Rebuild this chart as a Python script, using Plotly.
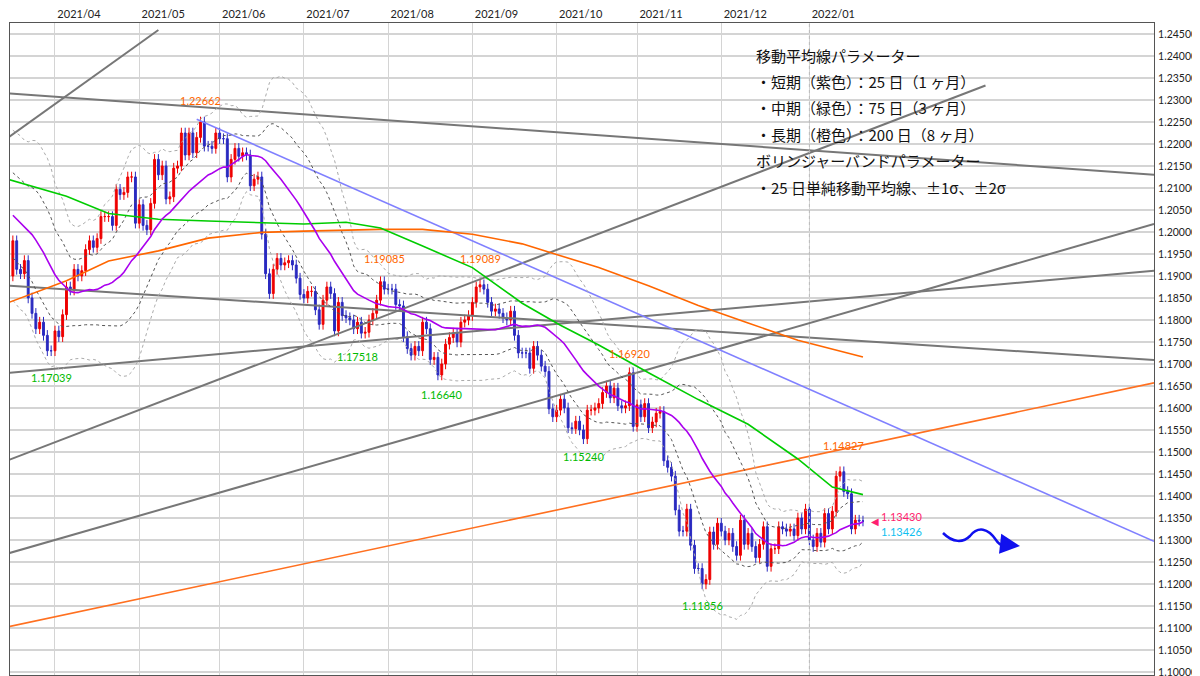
import pandas as pd
import numpy as np
import plotly.graph_objects as go

# ---------------- data ----------------
pre_closes = [1.2130,1.2120, 1.2125,1.2105,1.2040,1.2090,1.2120, 1.2155,1.2150,1.2165,1.2175,1.2075,
              1.2045,1.2090,1.2060,1.1965,1.1915, 1.1850,1.1900,1.1930,1.1985,1.1950, 1.1930,1.1900]
pre_start = "2021-02-11"
closes = [
 1.1980,1.1915,1.1905,
 1.1935,1.1850,1.1815,1.1780,1.1795,
 1.1765,1.1730,1.1730,1.1775,1.1762,
 1.1812,1.1875,1.1868,1.1915,1.1900,
 1.1912,1.1960,1.1980,1.1965,1.1985,
 1.2035,1.2035,1.2035,1.2015,1.2097,
 1.2085,1.2090,1.2125,1.2125,1.2020,
 1.2062,1.2015,1.2005,1.2065,1.2165,
 1.2130,1.2150,1.2075,1.2080,1.2145,
 1.2150,1.2225,1.2175,1.2225,1.2180,
 1.2215,1.2250,1.2195,1.2195,1.2190,
 1.2225,1.2212,1.2212,1.2125,1.2165,
 1.2190,1.2172,1.2180,1.2175,1.2105,
 1.2120,1.2125,1.1995,1.1905,1.1860,
 1.1915,1.1940,1.1925,1.1930,1.1935,
 1.1925,1.1895,1.1858,1.1850,1.1865,
 1.1865,1.1823,1.1790,1.1845,1.1875,
 1.1860,1.1775,1.1840,1.1810,1.1805,
 1.1800,1.1780,1.1795,1.1770,1.1772,
 1.1800,1.1815,1.1845,1.1887,1.1870,
 1.1870,1.1870,1.1835,1.1832,1.1762,
 1.1735,1.1720,1.1740,1.1730,1.1795,
 1.1780,1.1710,1.1715,1.1675,1.1700,
 1.1745,1.1760,1.1770,1.1750,1.1795,
 1.1800,1.1810,1.1840,1.1875,1.1880,
 1.1870,1.1840,1.1820,1.1825,1.1815,
 1.1805,1.1800,1.1820,1.1765,1.1725,
 1.1725,1.1725,1.1690,1.1740,1.1720,
 1.1695,1.1683,1.1598,1.1580,1.1595,
 1.1620,1.1600,1.1555,1.1553,1.1570,
 1.1550,1.1530,1.1595,1.1595,1.1600,
 1.1610,1.1635,1.1650,1.1623,1.1645,
 1.1605,1.1600,1.1605,1.1680,1.1558,
 1.1607,1.1580,1.1610,1.1555,1.1568,
 1.1588,1.1592,1.1480,1.1465,1.1445,
 1.1368,1.1320,1.1320,1.1370,1.1288,
 1.1235,1.1235,1.1200,1.1210,1.1318,
 1.1290,1.1338,1.1320,1.1300,1.1315,
 1.1285,1.1265,1.1345,1.1290,1.1315,
 1.1285,1.1260,1.1290,1.1330,1.1240,
 1.1280,1.1280,1.1330,1.1325,1.1320,
 1.1325,1.1310,1.1350,1.1325,1.1370,
 1.1300,1.1285,1.1315,1.1295,1.1360,
 1.1325,1.1365,1.1445,1.1455,1.1410,
 1.1405,1.1325,1.1345,1.1343,1.1343,
]
WICK = 0.0012

ma75_dates = ["2021-03-16","2021-04-06","2021-04-21","2021-05-10","2021-05-27","2021-06-16","2021-07-01",
              "2021-07-16","2021-07-29","2021-08-13","2021-09-01","2021-09-20","2021-10-04","2021-10-18",
              "2021-11-04","2021-11-23","2021-12-10","2021-12-29","2022-01-11","2022-01-21"]
ma75_vals = [1.2119,1.2081,1.2042,1.2029,1.2025,1.2022,1.2018,1.2022,1.2009,1.1968,1.1919,1.1838,1.1788,
             1.1743,1.1680,1.1619,1.1563,1.1484,1.1420,1.1403]
ma200_dates = ["2021-03-16","2021-04-06","2021-04-21","2021-05-10","2021-05-27","2021-06-16","2021-07-01",
               "2021-07-16","2021-07-29","2021-08-13","2021-09-01","2021-09-20","2021-10-04","2021-10-18",
               "2021-11-04","2021-11-23","2021-12-10","2021-12-29","2022-01-21"]
ma200_vals = [1.1840,1.1889,1.1934,1.1957,1.1986,1.1999,1.2002,1.2004,1.2006,1.2006,1.1995,1.1973,1.1946,
              1.1919,1.1878,1.1833,1.1793,1.1754,1.1716]

X_END = "2022-05-09"
gray_lines = [
    (("2021-03-16", 1.2216), ("2021-05-10", 1.2459)),
    (("2021-03-16", 1.2315), (X_END, 1.2130)),
    (("2021-03-16", 1.1482), ("2022-03-08", 1.2333)),
    (("2021-03-16", 1.1270), (X_END, 1.2018)),
    (("2021-03-16", 1.1680), (X_END, 1.1912)),
    (("2021-03-16", 1.1878), (X_END, 1.1709)),
]
blue_line = (("2021-05-24", 1.2256), (X_END, 1.1297))
orange_line = (("2021-03-16", 1.1103), (X_END, 1.1657))

peak_labels = [("2021-05-25", 1.2280, "1.22662"), ("2021-07-30", 1.1921, "1.19085"),
               ("2021-09-03", 1.1921, "1.19089"), ("2021-10-28", 1.1705, "1.16920"),
               ("2022-01-14", 1.1495, "1.14827")]
trough_labels = [("2021-03-31", 1.1688, "1.17039"), ("2021-07-21", 1.1736, "1.17518"),
                 ("2021-08-20", 1.1650, "1.16640"), ("2021-10-12", 1.1509, "1.15240"),
                 ("2021-11-24", 1.1170, "1.11856")]

month_ticks = ["2021-04-01","2021-05-03","2021-06-01","2021-07-01","2021-08-02","2021-09-01",
               "2021-10-01","2021-11-01","2021-12-01","2022-01-03"]
month_labels = ["2021/04","2021/05","2021/06","2021/07","2021/08","2021/09","2021/10","2021/11",
                "2021/12","2022/01"]
y_ticks = [round(1.100 + 0.005 * i, 3) for i in range(30)]

info_lines = ["移動平均線パラメーター", "・短期（紫色）：25 日（1 ヶ月）", "・中期（緑色）：75 日（3 ヶ月）",
              "・長期（橙色）：200 日（8 ヶ月）", "ボリンジャーバンドパラメーター", "・25 日単純移動平均線、±1σ、±2σ"]

# ---------------- build ----------------
all_closes = pre_closes + closes
all_dates = pd.bdate_range(pre_start, periods=len(all_closes))
s = pd.Series(all_closes, index=all_dates)
ma25 = s.rolling(25).mean()
sd = s.rolling(25).std(ddof=0)
n_pre = len(pre_closes)
dates = all_dates[n_pre:]
c = np.array(closes)
o = np.array(all_closes[n_pre - 1:-1])
h = np.maximum(o, c) + WICK
l = np.minimum(o, c) - WICK

fig = go.Figure()
for (a, b) in gray_lines:
    fig.add_trace(go.Scatter(x=[a[0], b[0]], y=[a[1], b[1]], mode="lines",
                             line=dict(color="#777777", width=2), hoverinfo="skip"))
fig.add_trace(go.Scatter(x=[blue_line[0][0], blue_line[1][0]], y=[blue_line[0][1], blue_line[1][1]],
                         mode="lines", line=dict(color="#8080ff", width=1.6)))
fig.add_trace(go.Scatter(x=[orange_line[0][0], orange_line[1][0]], y=[orange_line[0][1], orange_line[1][1]],
                         mode="lines", line=dict(color="#ff7020", width=1.6)))

for k, col in [(2, "#aaaaaa"), (1, "#555555")]:
    for sign in (1, -1):
        fig.add_trace(go.Scatter(x=dates, y=(ma25 + sign * k * sd)[n_pre:], mode="lines",
                                 line=dict(color=col, width=1, dash="dot")))
fig.add_trace(go.Scatter(x=ma200_dates, y=ma200_vals, mode="lines", line=dict(color="#ff6600", width=1.6)))
fig.add_trace(go.Scatter(x=ma75_dates, y=ma75_vals, mode="lines", line=dict(color="#00cc00", width=1.6)))
fig.add_trace(go.Scatter(x=dates, y=ma25[n_pre:], mode="lines", line=dict(color="#aa00ee", width=1.6)))
fig.add_trace(go.Candlestick(x=dates, open=o, high=h, low=l, close=c,
                             increasing=dict(line=dict(color="#ee0000", width=1), fillcolor="#ee0000"),
                             decreasing=dict(line=dict(color="#2a2ac0", width=1), fillcolor="#2a2ac0"),
                             whiskerwidth=0))

for d, v, t in peak_labels:
    fig.add_annotation(x=d, y=v, text=t, showarrow=False, yanchor="bottom",
                       font=dict(color="#ff6600", size=11, family="Lato"))
for d, v, t in trough_labels:
    fig.add_annotation(x=d, y=v, text=t, showarrow=False, yanchor="top",
                       font=dict(color="#00bb00", size=11, family="Lato"))

L, R, T, B = 2, 1146, 15, 667
def px(xp): return (xp - L) / (R - L)
def py(yp): return (B - yp) / (B - T)

for i, t in enumerate(info_lines):
    fig.add_annotation(xref="paper", yref="paper", x=px(746), y=py(47 + i * 26.4), text=t, showarrow=False,
                       xanchor="left", yanchor="middle", font=dict(size=15, color="#111111", family="Noto Sans CJK JP"))

fig.add_annotation(x="2022-01-21", y=1.1343, text="◀", showarrow=False, xanchor="left", xshift=6,
                   font=dict(color="#ff1f70", size=10))
fig.add_annotation(x="2022-01-21", y=1.1343, text="1.13430", showarrow=False, xanchor="left", xshift=16,
                   yanchor="bottom", yshift=-4, font=dict(color="#ff1f70", size=11, family="Lato"))
fig.add_annotation(x="2022-01-21", y=1.1343, text="1.13426", showarrow=False, xanchor="left", xshift=16,
                   yanchor="top", yshift=-2, font=dict(color="#10c0f0", size=11, family="Lato"))

wave = [(935, 525), (945, 535), (955, 535), (962, 528), (970, 518), (980, 520), (988, 532),
        (993, 540), (1000, 538), (1004, 535)]
path = "M {} {} C {} {}, {} {}, {} {} C {} {}, {} {}, {} {} C {} {}, {} {}, {} {}".format(
    *[v for p in wave for v in (px(p[0]), py(p[1]))])
fig.add_shape(type="path", xref="paper", yref="paper", path=path, line=dict(color="#1010ee", width=2.5))
fig.add_annotation(xref="paper", yref="paper", x=px(1012), y=py(538), ax=-18, ay=-2, axref="pixel",
                   showarrow=True, arrowhead=2, arrowsize=1.6, arrowwidth=2.5, arrowcolor="#1010ee", text="")

fig.add_vline(x="2022-01-03", line=dict(color="#bbbbbb", width=1, dash="dot"))

fig.update_layout(
    width=1200, height=676, margin=dict(l=L, r=1200 - R, t=T, b=676 - B, autoexpand=False),
    paper_bgcolor="white", plot_bgcolor="white", showlegend=False,
    xaxis=dict(type="date", side="top", range=["2021-03-16 06:00", X_END], automargin=False,
               rangebreaks=[dict(bounds=["sat", "mon"])], rangeslider=dict(visible=False),
               tickvals=month_ticks, ticktext=month_labels, ticks="", ticklabelshift=24, ticklabelstandoff=0,
               showgrid=True, gridcolor="#d4d4d4", showline=True, linecolor="#555555", mirror=True,
               tickfont=dict(size=11, color="#222222", family="Lato")),
    yaxis=dict(side="right", range=[1.0993, 1.2475], tickvals=y_ticks, ticktext=["%.5f" % v for v in y_ticks],
               automargin=False, showgrid=True, gridcolor="#d4d4d4", gridwidth=1.5, showline=True,
               linecolor="#555555", mirror=True, ticks="", ticklabelstandoff=1,
               tickfont=dict(size=10.5, color="#222222", family="Lato")),
)
fig.write_html("out.html")
